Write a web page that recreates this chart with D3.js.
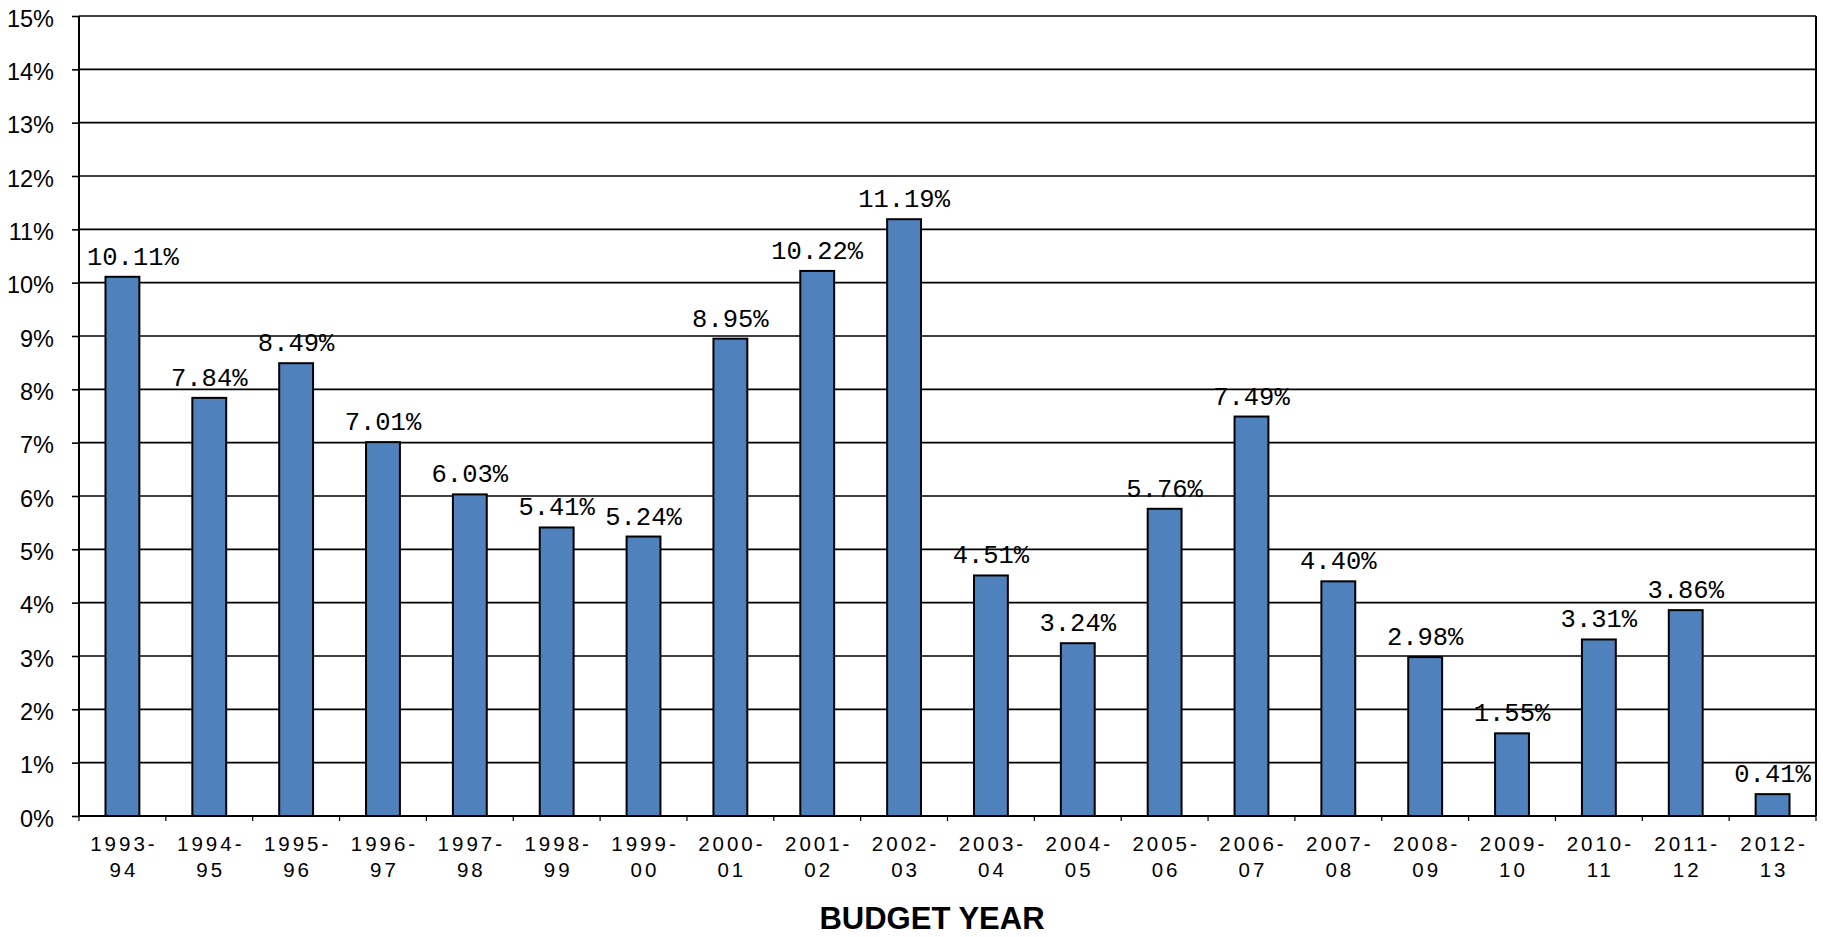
<!DOCTYPE html>
<html>
<head>
<meta charset="utf-8">
<script src="https://cdn.jsdelivr.net/npm/d3@7"></script>
<style>
  body { margin: 0; background: #fff; }
  .y-label { font-family: "Liberation Sans", Arial, sans-serif; font-size: 23.5px; fill: #000; }
  .x-label { font-family: "Liberation Sans Narrow", "Arial Narrow", "Liberation Sans", sans-serif; font-stretch: condensed; font-size: 20.5px; letter-spacing: 3px; fill: #000; }
  .value-label { font-family: "Liberation Mono", "Courier New", monospace; font-size: 25.5px; fill: #000; }
  .axis-title { font-family: "Liberation Sans", Arial, sans-serif; font-weight: bold; font-size: 31px; fill: #000; }
</style>
</head>
<body>
<div id="chart"></div>
<script>
// Budget years (x categories) and growth rate per year (%)
const budgetYears = [
  "1993-94", "1994-95", "1995-96", "1996-97", "1997-98", "1998-99", "1999-00",
  "2000-01", "2001-02", "2002-03", "2003-04", "2004-05", "2005-06", "2006-07",
  "2007-08", "2008-09", "2009-10", "2010-11", "2011-12", "2012-13"
];
const growthRates = [
  10.11, 7.84, 8.49, 7.01, 6.03, 5.41, 5.24, 8.95, 10.22, 11.19,
  4.51, 3.24, 5.76, 7.49, 4.40, 2.98, 1.55, 3.31, 3.86, 0.41
];
const yTicks = [0, 1, 2, 3, 4, 5, 6, 7, 8, 9, 10, 11, 12, 13, 14, 15];
const xTitle = "BUDGET YEAR";

const data = budgetYears.map((year, i) => ({ year, value: growthRates[i] }));

const margin = { top: 16, right: 7, bottom: 121, left: 79 };
const totalWidth = 1823;
const totalHeight = 937;
const width = totalWidth - margin.left - margin.right;
const height = totalHeight - margin.top - margin.bottom;

const svg = d3
  .select("#chart")
  .append("svg")
  .attr("width", totalWidth)
  .attr("height", totalHeight)
  .style("display", "block");

const g = svg.append("g").attr("transform", `translate(${margin.left},${margin.top})`);

// Scales
const x = d3.scaleBand().domain(budgetYears).range([0, width]).paddingInner(0.61).paddingOuter(0.305);
const y = d3.scaleLinear().domain([0, 15]).range([height, 0]);

// Horizontal gridlines
g.append("g")
  .selectAll("line")
  .data(yTicks)
  .enter()
  .append("line")
  .attr("x1", 0)
  .attr("x2", width)
  .attr("y1", (d) => y(d))
  .attr("y2", (d) => y(d))
  .style("stroke", "#000")
  .style("stroke-width", 1.6);

// Y axis with percent labels
const yAxis = g
  .append("g")
  .call(d3.axisLeft(y).tickValues(yTicks).tickSize(7).tickFormat((d) => d + "%"));
yAxis.select(".domain").remove();
yAxis.selectAll(".tick line").style("stroke", "#000").style("stroke-width", 1.6);
yAxis
  .selectAll(".tick text")
  .attr("class", "y-label")
  .attr("x", -25)
  .attr("dy", null)
  .attr("y", 10);

// Bars
g.append("g")
  .selectAll("rect")
  .data(data)
  .enter()
  .append("rect")
  .attr("x", (d) => x(d.year))
  .attr("y", (d) => y(d.value))
  .attr("width", x.bandwidth())
  .attr("height", (d) => y(0) - y(d.value))
  .style("fill", "#4F81BD")
  .style("stroke", "#000")
  .style("stroke-width", 2);

// Value labels above bars, kept inside the plot area
const labels = g
  .append("g")
  .selectAll("text")
  .data(data)
  .enter()
  .append("text")
  .attr("class", "value-label")
  .attr("text-anchor", "middle")
  .attr("y", (d) => y(d.value) - 12)
  .text((d) => d.value.toFixed(2) + "%");

labels.attr("x", function (d) {
  const w = this.getComputedTextLength();
  const cx = x(d.year) + x.bandwidth() / 2;
  return Math.min(Math.max(cx, w / 2 + 8), width - w / 2);
});

// Plot frame (left axis, right edge, bottom axis)
g.append("line").attr("x1", 0).attr("x2", 0).attr("y1", 0).attr("y2", height)
  .style("stroke", "#000").style("stroke-width", 2);
g.append("line").attr("x1", width).attr("x2", width).attr("y1", 0).attr("y2", height)
  .style("stroke", "#000").style("stroke-width", 2);
g.append("line").attr("x1", 0).attr("x2", width).attr("y1", height).attr("y2", height)
  .style("stroke", "#000").style("stroke-width", 2);

// X tick marks at category boundaries
const step = x.step();
g.append("g")
  .selectAll("line")
  .data(d3.range(budgetYears.length + 1))
  .enter()
  .append("line")
  .attr("x1", (i) => i * step)
  .attr("x2", (i) => i * step)
  .attr("y1", height)
  .attr("y2", height + 5)
  .style("stroke", "#000")
  .style("stroke-width", 1.2);

// X labels split over two lines at the hyphen
const xLabels = g
  .append("g")
  .selectAll("text")
  .data(budgetYears)
  .enter()
  .append("text")
  .attr("class", "x-label")
  .attr("text-anchor", "middle")
  .attr("transform", (d) => `translate(${x(d) + x.bandwidth() / 2 + 1.5},${height + 35})`);

xLabels.append("tspan").attr("x", 0).attr("y", 0).text((d) => d.split("-")[0] + "-");
xLabels.append("tspan").attr("x", 0).attr("y", 26).text((d) => d.split("-")[1]);

// Axis title
svg
  .append("text")
  .attr("class", "axis-title")
  .attr("text-anchor", "middle")
  .attr("x", 932)
  .attr("y", 929)
  .text(xTitle);
</script>
</body>
</html>
